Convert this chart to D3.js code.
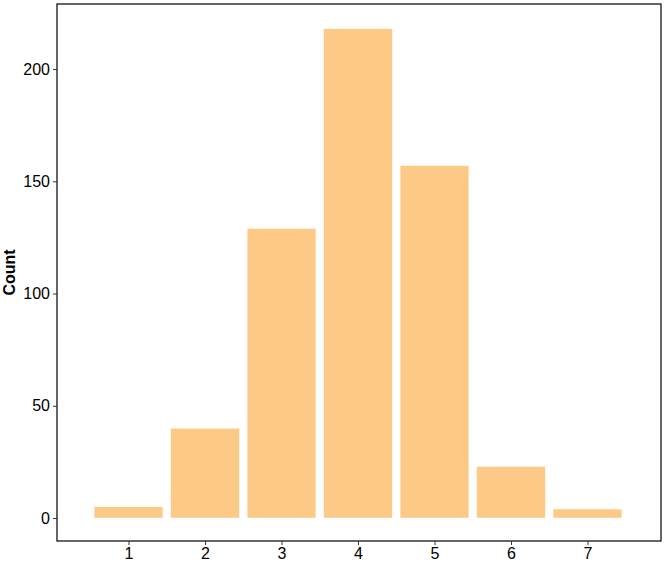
<!DOCTYPE html>
<html>
<head>
<meta charset="utf-8">
<script src="https://cdn.jsdelivr.net/npm/d3@7"></script>
<style>
  body { margin: 0; background: #fff; }
  svg text { font-family: "Liberation Sans", Arial, sans-serif; }
</style>
</head>
<body>
<div id="chart"></div>
<script>
var categories = [1, 2, 3, 4, 5, 6, 7];
var counts = [5, 40, 129, 218, 157, 23, 4];
var yTicks = [0, 50, 100, 150, 200];

var width = 664, height = 569,
    margin = {top: 4, right: 3, bottom: 28, left: 57};

var svg = d3.select("#chart").append("svg")
    .attr("width", width)
    .attr("height", height);

// x: 1 -> 128.5, 7 -> 587.5
var x = d3.scaleLinear()
    .domain([0.065, 7.961])
    .range([margin.left, width - margin.right]);

var y = d3.scaleLinear()
    .domain([-10.25, 229])
    .range([height - margin.bottom, margin.top]);

var step = x(2) - x(1),
    barW = step * 0.9;

// bars
svg.append("g")
    .selectAll("rect")
    .data(categories)
    .enter()
    .append("rect")
    .attr("x", function (d) { return x(d) - barW / 2; })
    .attr("y", function (d, i) { return y(counts[i]); })
    .attr("width", barW)
    .attr("height", function (d, i) { return y(0) - y(counts[i]); })
    .attr("fill", "#fdc986")
    .attr("stroke", "#fff")
    .attr("stroke-width", 0.5);

// panel border
svg.append("rect")
    .attr("x", margin.left)
    .attr("y", margin.top)
    .attr("width", width - margin.left - margin.right)
    .attr("height", height - margin.top - margin.bottom)
    .attr("fill", "none")
    .attr("stroke", "#000")
    .attr("stroke-width", 1.2);

// axes
var xAxis = svg.append("g")
    .attr("transform", "translate(0," + (height - margin.bottom) + ")")
    .call(d3.axisBottom(x).tickValues(categories).tickSize(4).tickPadding(3));

var yAxis = svg.append("g")
    .attr("transform", "translate(" + margin.left + ",0)")
    .call(d3.axisLeft(y).tickValues(yTicks).tickSize(4).tickPadding(3));

[xAxis, yAxis].forEach(function (g) {
    g.select(".domain").remove();
    g.selectAll(".tick line").attr("stroke", "#333");
    g.selectAll(".tick text")
        .attr("fill", "#000")
        .style("font-size", "16px");
});

// y label
svg.append("text")
    .attr("transform", "translate(15," + ((margin.top + height - margin.bottom) / 2) + ") rotate(-90)")
    .attr("text-anchor", "middle")
    .style("font-size", "16px")
    .style("font-weight", "bold")
    .text("Count");
</script>
</body>
</html>
